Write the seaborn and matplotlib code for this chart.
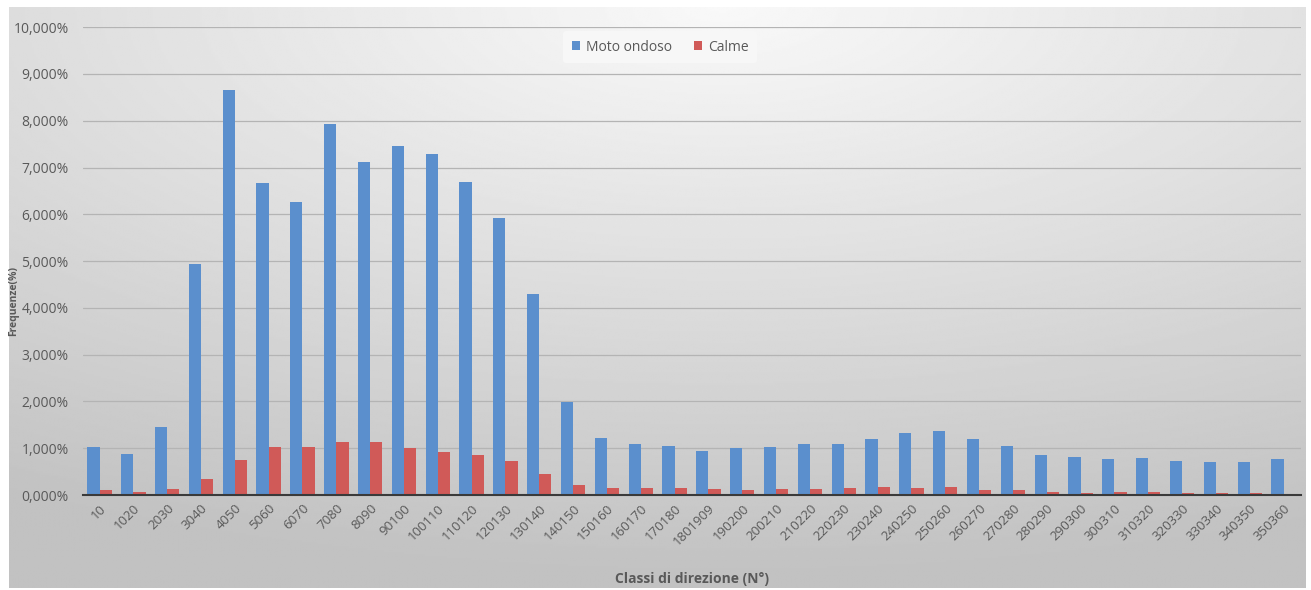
import numpy as np
import pandas as pd
import seaborn as sns
import matplotlib.pyplot as plt
from matplotlib.ticker import FuncFormatter

classi = ["10", "1020", "2030", "3040", "4050", "5060", "6070", "7080", "8090", "90100",
          "100110", "110120", "120130", "130140", "140150", "150160", "160170", "170180",
          "1801909", "190200", "200210", "210220", "220230", "230240", "240250", "250260",
          "260270", "270280", "280290", "290300", "300310", "310320", "320330", "330340",
          "340350", "350360"]
moto_ondoso = [1.03, 0.88, 1.45, 4.93, 8.65, 6.67, 6.27, 7.92, 7.11, 7.45,
               7.28, 6.70, 5.93, 4.30, 1.98, 1.22, 1.08, 1.05,
               0.95, 1.00, 1.03, 1.10, 1.08, 1.20, 1.32, 1.37,
               1.20, 1.05, 0.85, 0.82, 0.78, 0.80, 0.73, 0.70,
               0.70, 0.76]
calme = [0.10, 0.07, 0.13, 0.35, 0.74, 1.03, 1.03, 1.13, 1.13, 1.01,
         0.92, 0.86, 0.72, 0.45, 0.22, 0.15, 0.15, 0.15,
         0.12, 0.10, 0.12, 0.12, 0.15, 0.17, 0.15, 0.17,
         0.10, 0.10, 0.07, 0.05, 0.07, 0.07, 0.05, 0.05,
         0.05, 0.02]
serie = ["Moto ondoso", "Calme"]
colori = ["#5b8fcd", "#d05a58"]

df = pd.DataFrame({
    "classe": classi * 2,
    "freq": moto_ondoso + calme,
    "serie": [serie[0]] * len(classi) + [serie[1]] * len(classi),
})

sns.set_style("white")
plt.rcParams["font.family"] = ["Open Sans", "DejaVu Sans"]
text_col = "#595959"

fig = plt.figure(figsize=(13.11, 5.9), dpi=100)
fig.patch.set_facecolor("white")

# sfondo sfumato stile Excel
bg = fig.add_axes([0.007, 0.003, 0.989, 0.985], zorder=-10)
yy, xx = np.mgrid[0:1:300j, 0:1:600j]
d = np.sqrt(((xx - 0.55) * 1.0) ** 2 + ((yy - 0.0) * 1.1) ** 2)
shade = np.clip(0.975 - 0.2 * d, 0.76, 0.975)
bg.imshow(shade, cmap="gray", vmin=0, vmax=1, aspect="auto", interpolation="bilinear")
bg.axis("off")

ax = fig.add_axes([0.063, 0.161, 0.929, 0.793])
ax.set_facecolor("none")
sns.barplot(data=df, x="classe", y="freq", hue="serie", palette=colori,
            width=0.72, saturation=1, linewidth=0, ax=ax, zorder=3)

ax.set_ylim(0, 10)
ax.set_xlim(-0.5, len(classi) - 0.5)
ax.set_yticks(np.arange(0, 11, 1))
ax.yaxis.set_major_formatter(FuncFormatter(lambda v, p: f"{v:.3f}%".replace(".", ",")))
ax.grid(axis="y", color="#b4b4b4", linewidth=0.9, zorder=0)
ax.set_axisbelow(True)
for s in ["top", "right", "left"]:
    ax.spines[s].set_visible(False)
ax.spines["bottom"].set_color("#3a3a3a")
ax.spines["bottom"].set_linewidth(1.5)
ax.spines["bottom"].set_zorder(5)

ax.tick_params(axis="y", length=0, labelsize=10, labelcolor=text_col, pad=10)
ax.tick_params(axis="x", length=0, labelsize=9.5, labelcolor=text_col, pad=5)
plt.setp(ax.get_xticklabels(), rotation=45, ha="right", rotation_mode="anchor")

ax.set_xlabel("Classi di direzione (N°)", fontsize=10, fontweight="bold", color=text_col, labelpad=17)
ax.set_ylabel("")
fig.text(0.0105, 0.49, "Frequenze(%)", rotation=90, fontsize=7.5, fontweight="bold",
         color=text_col, ha="center", va="center")

leg = ax.legend(loc="center", bbox_to_anchor=(0.5035, 0.92), bbox_transform=fig.transFigure,
                ncol=2, frameon=True, fontsize=10, handlelength=0.6, handleheight=0.6,
                handletextpad=0.4, columnspacing=1.6, borderpad=0.6)
leg.get_frame().set_facecolor("#f7f7f7")
leg.get_frame().set_edgecolor("none")
leg.get_frame().set_alpha(1)
for t in leg.get_texts():
    t.set_color(text_col)

fig.savefig("out.png", dpi=100)
